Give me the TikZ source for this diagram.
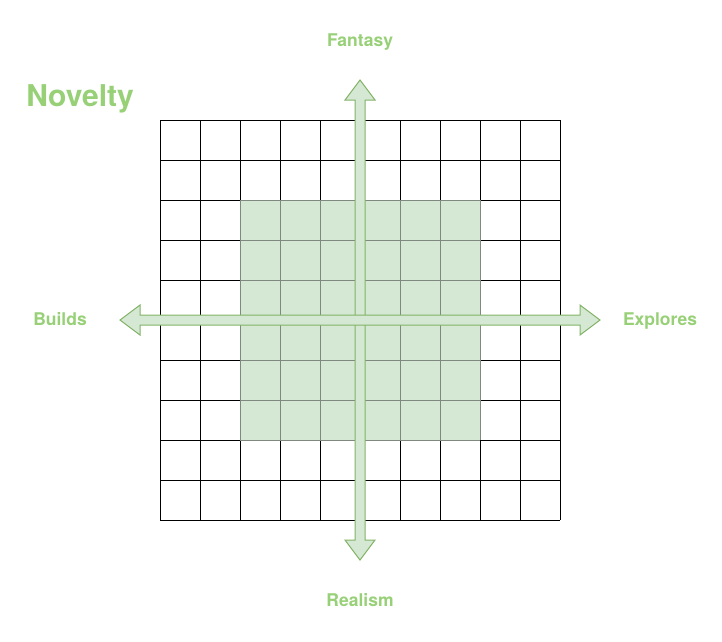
\documentclass[tikz,border=0pt]{standalone}
\usepackage{fontspec}
\setmainfont{TeX Gyre Heros}
\definecolor{axisfill}{HTML}{D5E8D4}
\definecolor{axisline}{HTML}{82B366}
\definecolor{labelgreen}{HTML}{97D077}
\definecolor{cellline}{HTML}{808880}
\begin{document}
\begin{tikzpicture}[x=1pt,y=-1pt,
  gridline/.style={line width=1pt,black},
  zoneline/.style={line width=1pt,cellline},
  axisarrow/.style={fill=axisfill,draw=axisline,line width=1pt,line join=miter},
  axislabel/.style={text=labelgreen,anchor=base,inner sep=0pt,font=\fontsize{17.5}{20}\selectfont\bfseries},
  titlelabel/.style={text=labelgreen,anchor=base,inner sep=0pt,font=\fontsize{30}{34}\selectfont\bfseries}]
\useasboundingbox (0,0) rectangle (722,641);
% outer grid of 10x10 cells
\foreach \k in {0,...,10} {
  \draw[gridline] (160+40*\k,120) -- (160+40*\k,520);
  \draw[gridline] (160,120+40*\k) -- (560,120+40*\k);
}
% shaded central zone
\fill[axisfill] (240,200) rectangle (480,440);
\foreach \k in {0,...,6} {
  \draw[zoneline] (240+40*\k,200) -- (240+40*\k,440);
  \draw[zoneline] (240,200+40*\k) -- (480,200+40*\k);
}
% vertical double arrow
\draw[axisarrow] (360,80) -- (375,100) -- (365,100) -- (365,540) -- (375,540)
  -- (360,560) -- (345,540) -- (355,540) -- (355,100) -- (345,100) -- cycle;
% horizontal double arrow
\draw[axisarrow] (120,320) -- (140,305) -- (140,315) -- (580,315) -- (580,305)
  -- (600,320) -- (580,335) -- (580,325) -- (140,325) -- (140,335) -- cycle;
% labels
\node[titlelabel] (title) at (80,106) {Novelty};
\node[axislabel] (top) at (360,46) {Fantasy};
\node[axislabel] (bottom) at (360,606) {Realism};
\node[axislabel] (left) at (60,325) {Builds};
\node[axislabel] (right) at (660,325) {Explores};
\end{tikzpicture}
\end{document}
